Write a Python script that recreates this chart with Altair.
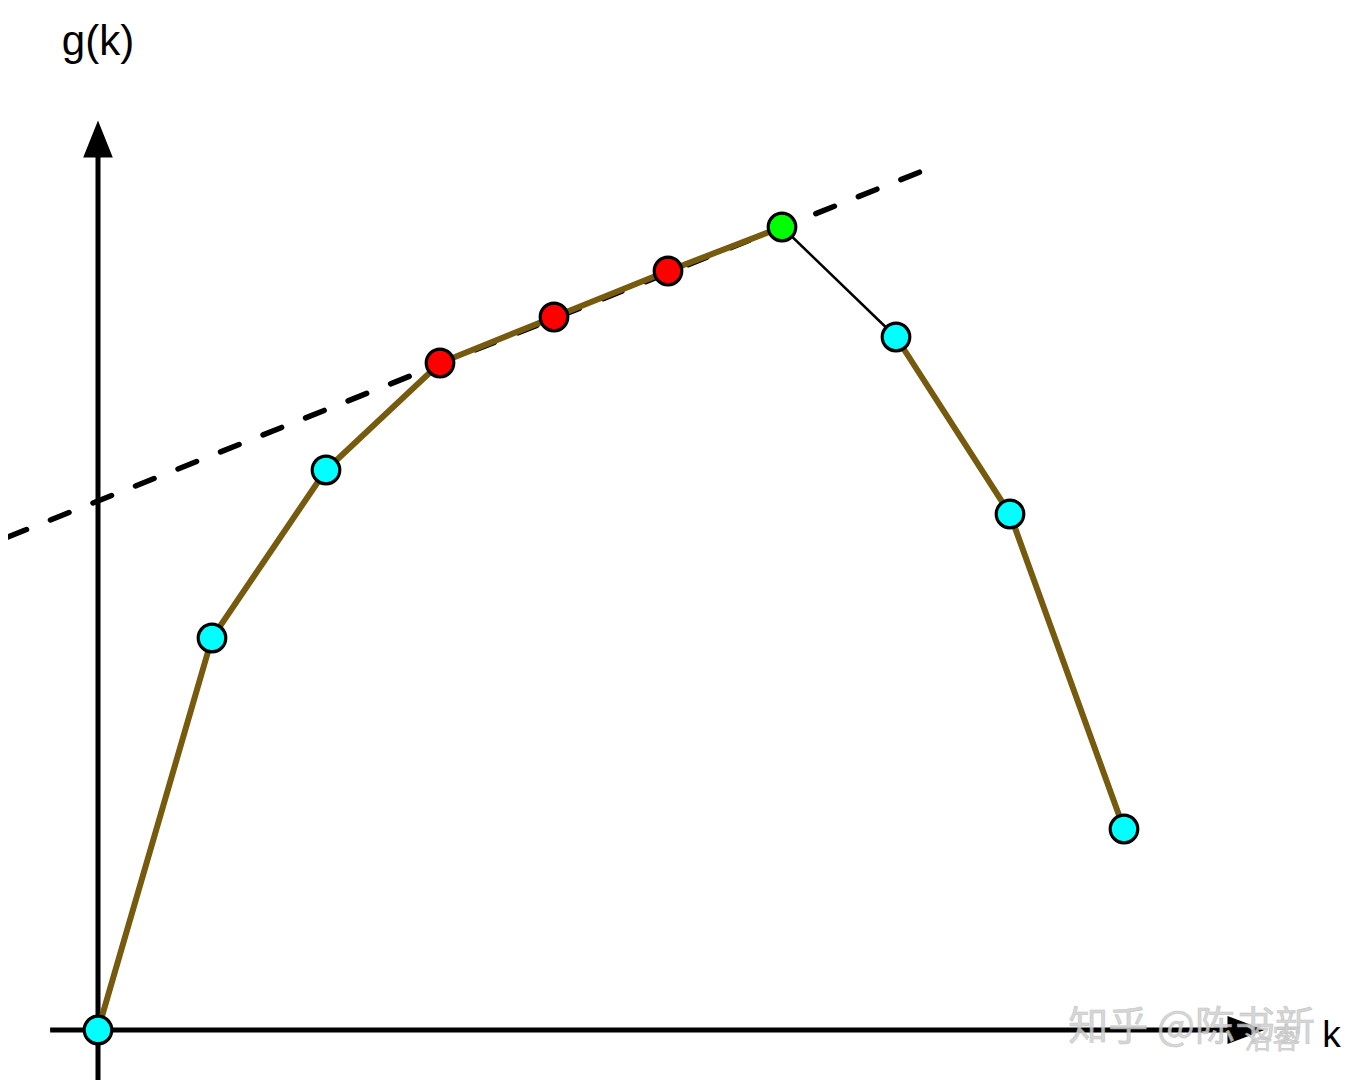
import altair as alt
import pandas as pd

# ---- data ----
ks = [0, 1, 2, 3, 4, 5, 6, 7, 8, 9]
g_vals = [0.0, 3.92, 5.60, 6.67, 7.13, 7.59, 8.03, 6.93, 5.16, 2.01]
pt_colors = ["#00ffff", "#00ffff", "#00ffff", "#ff0000", "#ff0000", "#ff0000",
             "#00ff00", "#00ffff", "#00ffff", "#00ffff"]
# brown path segments (by index) and thin black segment
brown_a = [0, 1, 2, 3, 4, 5, 6]
brown_b = [7, 8, 9]
thin_seg = [6, 7]
# dashed tangent line endpoints (k, g)
dash_k = [-0.79, 7.21]
dash_g = [4.93, 8.58]

# ---- scales ----
KMIN = -90 / 114
KMAX = KMIN + 1340 / 114
GMAX = 10.22
GMIN = GMAX - 10.72
xs = alt.Scale(domain=[KMIN, KMAX], nice=False, zero=False)
ys = alt.Scale(domain=[GMIN, GMAX], nice=False, zero=False)

def X():
    return alt.X("k:Q", scale=xs, axis=None)

def Y():
    return alt.Y("g:Q", scale=ys, axis=None)

pts = pd.DataFrame({"k": ks, "g": g_vals, "c": pt_colors})

# axes lines
xaxis = alt.Chart(pd.DataFrame({"k": [-0.42, 10.0], "g": [0, 0]})).mark_line(
    color="black", strokeWidth=5).encode(x=X(), y=Y())
yaxis = alt.Chart(pd.DataFrame({"k": [0, 0], "g": [-0.5, 8.9]})).mark_line(
    color="black", strokeWidth=5).encode(x=X(), y=Y(), order="g:Q")
up_arrow = alt.Chart(pd.DataFrame({"k": [0], "g": [8.91]})).mark_point(
    shape="M0,-1L0.8,1L-0.8,1Z", filled=True, color="black", size=37 * 37, opacity=1
).encode(x=X(), y=Y())
right_arrow = alt.Chart(pd.DataFrame({"k": [10.07], "g": [0]})).mark_point(
    shape="M1,0L-1,-0.76L-1,0.76Z", filled=True, color="black", size=37 * 37, opacity=1
).encode(x=X(), y=Y())

dashed = alt.Chart(pd.DataFrame({"k": dash_k, "g": dash_g})).mark_line(
    color="black", strokeWidth=5.5, strokeDash=[20, 25.8], strokeCap="round"
).encode(x=X(), y=Y())

def seg(idx, color, width):
    df = pd.DataFrame({"k": [ks[i] for i in idx], "g": [g_vals[i] for i in idx]})
    return alt.Chart(df).mark_line(color=color, strokeWidth=width).encode(x=X(), y=Y())

line_a = seg(brown_a, "#765a0e", 6)
line_b = seg(brown_b, "#765a0e", 6)
line_t = seg(thin_seg, "black", 2.5)

points = alt.Chart(pts).mark_circle(size=760, opacity=1, stroke="black", strokeWidth=3.2).encode(
    x=X(), y=Y(), color=alt.Color("c:N", scale=None))

gk_label = alt.Chart(pd.DataFrame({"k": [0.0], "g": [9.75], "t": ["g(k)"]})).mark_text(
    font="Liberation Sans", fontSize=42, align="center", baseline="alphabetic", color="black"
).encode(x=X(), y=Y(), text="t:N")
k_label = alt.Chart(pd.DataFrame({"k": [10.82], "g": [-0.165], "t": ["k"]})).mark_text(
    font="Liberation Sans", fontSize=37, align="center", baseline="alphabetic", color="black"
).encode(x=X(), y=Y(), text="t:N")

wm = alt.Chart(pd.DataFrame({"k": [8.51], "g": [-0.10], "t": ["知乎 @陈书新"]})).mark_text(
    font="Noto Sans CJK SC", fontSize=40, align="left", baseline="alphabetic",
    color="#d0d0d0", stroke="#bdbdbd", strokeWidth=0.6, opacity=0.85
).encode(x=X(), y=Y(), text="t:N")
wm2 = alt.Chart(pd.DataFrame({"k": [10.3], "g": [-0.19], "t": ["洛客"]})).mark_text(
    font="Noto Sans CJK SC", fontSize=28, align="center", baseline="alphabetic",
    color="#d0d0d0", stroke="#bdbdbd", strokeWidth=0.5, opacity=0.85
).encode(x=X(), y=Y(), text="t:N")

chart = alt.layer(
    xaxis, yaxis, up_arrow, right_arrow, dashed, line_a, line_b, line_t, points,
    wm, wm2, k_label, gk_label
).properties(
    width=1340, height=1072, padding=0,
    autosize=alt.AutoSizeParams(type="none")
).configure(background="white").configure_view(stroke=None, strokeWidth=0)

chart.save("out.html", embed_options={"renderer": "svg", "actions": False})
